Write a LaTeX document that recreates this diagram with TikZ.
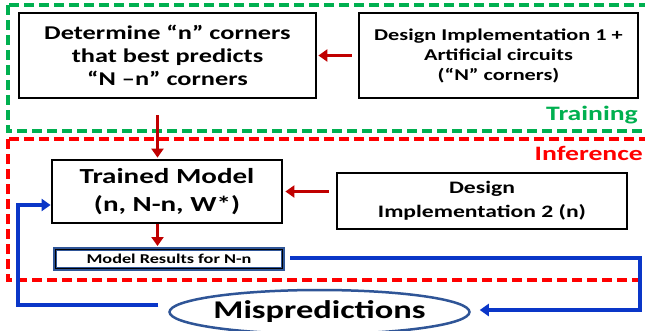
\documentclass[tikz,border=0pt]{standalone}
\usepackage{fontspec}
\setmainfont{Carlito}[FakeStretch=1.35]
\usetikzlibrary{arrows.meta,shapes.geometric,calc}
\definecolor{tgreen}{HTML}{00B050}
\definecolor{ired}{HTML}{FF0000}
\definecolor{darr}{HTML}{C00000}
\definecolor{fblue}{HTML}{0A36C8}
\definecolor{sblue}{HTML}{2F5597}
\begin{document}
\begin{tikzpicture}[x=1pt,y=-1pt,
  box/.style={draw=black,line width=2.8pt,fill=white,align=center,inner sep=0pt,font=\bfseries},
  zone/.style={line width=3.5pt,dash pattern=on 10pt off 5pt},
  redarrow/.style={draw=darr,line width=3.2pt,-{Triangle[length=9pt,width=12pt]}},
  bluearrow/.style={draw=fblue,line width=3.4pt,-{Triangle[length=9pt,width=12pt]}},
  lbl/.style={font=\bfseries,inner sep=0pt}]
\useasboundingbox (0,0) rectangle (645,330);
\fill[white] (0,0) rectangle (645,330);
% zones
\draw[zone,tgreen] (8,5) rectangle (660,131);
\draw[zone,ired] (8,139) rectangle (660,280);
\node[lbl,text=tgreen,font=\fontsize{20.5}{22}\selectfont\bfseries,anchor=base east] (tr) at (638,120) {Training};
\node[lbl,text=ired,font=\fontsize{20.5}{22}\selectfont\bfseries,anchor=base east] (inf) at (643,160) {Inference};
% boxes
\node[box,minimum width=297pt,minimum height=85pt,font=\fontsize{19.5}{23}\selectfont\bfseries] (b1) at (167.5,55.5)
  {Determine “n” corners\\that best predicts\\“N –n” corners};
\node[box,minimum width=279pt,minimum height=85pt,font=\fontsize{16.5}{20}\selectfont\bfseries] (b2) at (498.5,55.5)
  {Design Implementation 1 +\\Artificial circuits\\(“N” corners)};
\node[box,minimum width=230pt,minimum height=63pt,font=\fontsize{21.5}{28}\selectfont\bfseries] (tm) at (167,191.5)
  {Trained Model\\(n, N-n, W*)};
\node[box,minimum width=290pt,minimum height=56pt,font=\fontsize{17.5}{24}\selectfont\bfseries] (di) at (482,201)
  {Design\\Implementation 2 (n)};
\node[box,draw=sblue,line width=4pt,minimum width=228pt,minimum height=20pt,font=\fontsize{13.5}{16}\selectfont\bfseries] (mr) at (169,259)
  {Model Results for N-n};
\draw[black,line width=1.2pt] ([shift={(2.6,2.6)}]mr.north west) rectangle ([shift={(-2.6,-2.6)}]mr.south east);
\node[ellipse,draw=sblue,line width=2.5pt,fill=white,minimum width=265pt,minimum height=44pt,inner sep=0pt,font=\fontsize{25.5}{28}\selectfont\bfseries] (mp) at (319.5,312) {Mispredictions};
% column coordinates
\coordinate (c1) at (157.5,115);
\coordinate (c2) at (157.5,223);
% red arrows
\draw[redarrow,shorten <=6pt,shorten >=1pt] (b2.west) -- (b1.east);
\draw[redarrow,shorten >=1pt] (c1) -- (c1 |- tm.north);
\draw[redarrow,shorten <=7pt,shorten >=2pt] (di.west |- tm.east) -- (tm.east);
\draw[redarrow,shorten <=1pt,shorten >=1pt] (c2) -- (c2 |- mr.north);
% blue feedback
\draw[bluearrow,shorten <=5pt,shorten >=9pt] ($(mr.east)+(0,-1)$) -| (640,310) -- (mp.east |- 0,310);
\coordinate (lc) at (18,305);
\draw[bluearrow,shorten <=10pt] (mp.west |- lc) -- (lc) |- ($(tm.west)+(0,13.5)$);
\end{tikzpicture}
\end{document}
